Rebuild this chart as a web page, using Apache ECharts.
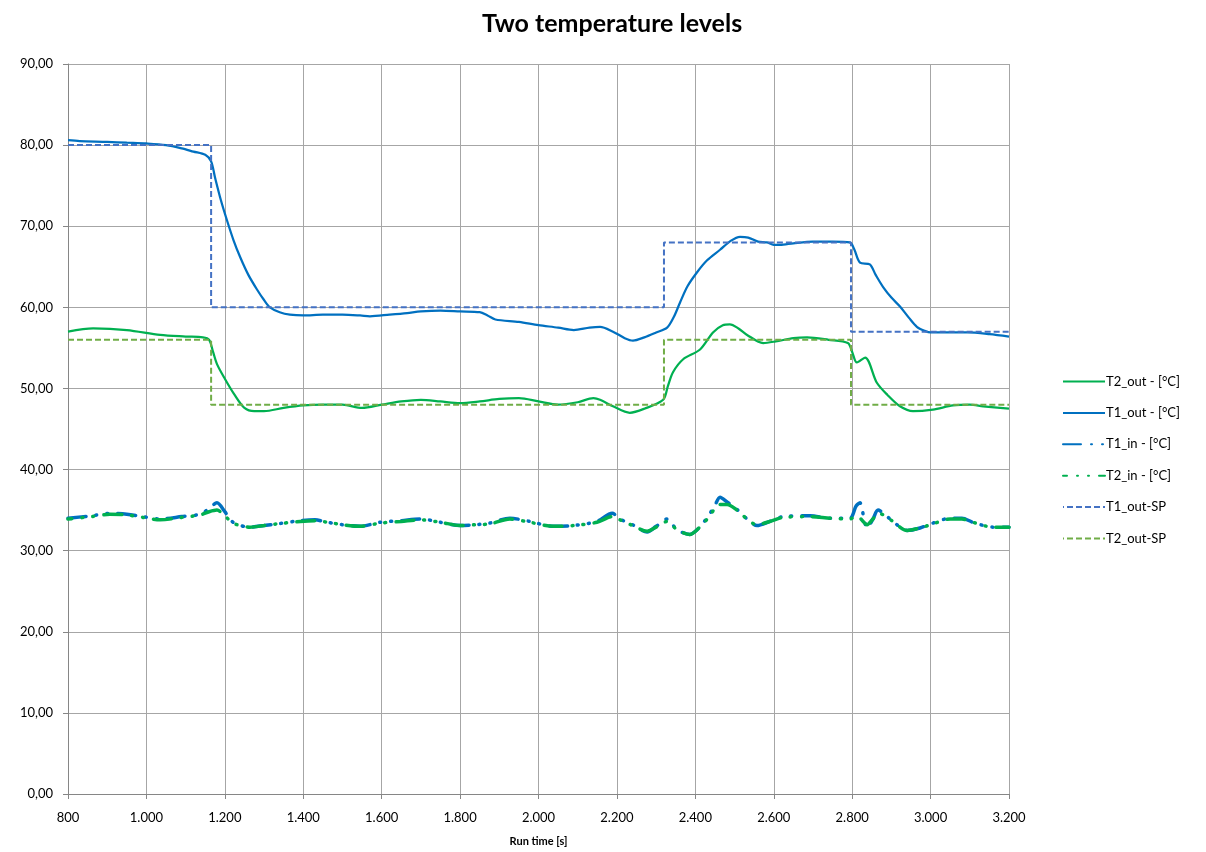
<!DOCTYPE html>
<html>
<head>
<meta charset="utf-8">
<script src="https://cdn.jsdelivr.net/npm/echarts@6/dist/echarts.min.js"></script>
<style>html,body{margin:0;padding:0;background:#fff}#c{width:1206px;height:852px}</style>
</head>
<body>
<div id="c"></div>
<script>
const titleText = 'Two temperature levels';
const xAxisName = 'Run time [s]';
const seriesNames = ['T2_out - [°C]', 'T1_out - [°C]', 'T1_in - [°C]', 'T2_in - [°C]', 'T1_out-SP', 'T2_out-SP'];

const t2Out = [[800,57.0],[864,57.4],[950,57.2],[1035,56.6],[1100,56.4],[1144,56.3],[1160,56.0],[1170,54.5],[1180,53.0],[1200,51.2],[1225,49.2],[1250,47.6],[1275,47.2],[1300,47.2],[1350,47.6],[1400,47.9],[1450,48.0],[1500,48.0],[1550,47.6],[1600,48.0],[1650,48.4],[1700,48.6],[1750,48.4],[1800,48.2],[1850,48.4],[1900,48.7],[1950,48.8],[2000,48.4],[2050,48.0],[2100,48.3],[2140,48.8],[2157,48.6],[2190,47.8],[2233,47.0],[2270,47.5],[2318,48.6],[2330,50.3],[2343,52.0],[2369,53.6],[2412,54.8],[2445,56.9],[2470,57.8],[2488,57.9],[2510,57.4],[2532,56.6],[2573,55.6],[2605,55.8],[2650,56.2],[2685,56.3],[2740,56.0],[2789,55.6],[2800,54.5],[2812,53.2],[2833,53.8],[2863,50.7],[2890,49.2],[2922,47.8],[2955,47.2],[3006,47.4],[3057,47.9],[3100,48.0],[3134,47.8],[3200,47.5]];

const t1Out = [[800,80.6],[830,80.5],[900,80.4],[950,80.3],[1000,80.2],[1050,80.0],[1090,79.6],[1120,79.2],[1150,78.8],[1165,78.0],[1175,76.0],[1190,73.2],[1205,70.8],[1222,68.3],[1239,66.2],[1260,64.0],[1282,62.2],[1300,60.9],[1315,60.0],[1340,59.4],[1366,59.1],[1400,59.0],[1450,59.1],[1500,59.1],[1545,59.0],[1570,58.9],[1620,59.1],[1665,59.3],[1700,59.5],[1750,59.6],[1800,59.5],[1850,59.4],[1870,59.0],[1890,58.5],[1950,58.2],[2000,57.8],[2050,57.5],[2090,57.2],[2130,57.5],[2157,57.6],[2190,57.0],[2220,56.2],[2241,55.9],[2270,56.3],[2300,56.9],[2328,57.5],[2345,58.8],[2361,60.6],[2380,62.6],[2404,64.3],[2430,65.8],[2463,67.1],[2490,68.2],[2514,68.7],[2535,68.6],[2560,68.1],[2583,68.0],[2600,67.7],[2616,67.7],[2650,67.9],[2700,68.1],[2750,68.1],[2794,68.0],[2805,67.2],[2820,65.5],[2845,65.3],[2860,64.0],[2879,62.5],[2900,61.2],[2922,60.1],[2945,58.7],[2965,57.6],[2985,57.1],[3000,56.9],[3050,56.9],[3093,56.9],[3150,56.7],[3200,56.4]];

const t1In = [[800,34.0],[860,34.3],[907,34.6],[950,34.5],[991,34.2],[1035,33.9],[1090,34.2],[1137,34.5],[1160,35.2],[1180,35.9],[1200,34.8],[1221,33.5],[1264,32.9],[1300,33.1],[1333,33.3],[1392,33.7],[1430,33.8],[1461,33.5],[1500,33.2],[1545,33.0],[1596,33.5],[1650,33.7],[1698,33.9],[1750,33.5],[1800,33.1],[1840,33.2],[1876,33.4],[1927,34.0],[1978,33.6],[2038,33.0],[2089,33.1],[2149,33.6],[2188,34.6],[2208,33.9],[2240,33.2],[2277,32.3],[2300,33.0],[2328,33.9],[2353,32.6],[2386,32.0],[2407,32.7],[2432,34.2],[2450,35.6],[2463,36.6],[2481,36.0],[2506,35.1],[2539,33.6],[2557,33.1],[2590,33.6],[2624,34.2],[2693,34.3],[2744,34.0],[2794,34.0],[2810,35.5],[2820,35.9],[2830,34.0],[2838,32.8],[2853,33.9],[2866,35.0],[2880,34.6],[2904,33.6],[2940,32.5],[2973,32.8],[3006,33.4],[3050,34.0],[3080,34.0],[3108,33.5],[3159,32.9],[3200,32.9]];

const t2In = [[800,33.9],[860,34.2],[907,34.5],[950,34.4],[991,34.1],[1035,33.8],[1090,34.1],[1137,34.4],[1160,34.8],[1180,35.0],[1200,34.3],[1221,33.4],[1264,32.9],[1300,33.1],[1333,33.3],[1392,33.6],[1430,33.7],[1461,33.5],[1500,33.2],[1545,33.0],[1596,33.4],[1650,33.6],[1698,33.8],[1750,33.5],[1800,33.1],[1840,33.2],[1876,33.3],[1927,33.9],[1978,33.5],[2038,33.0],[2089,33.1],[2149,33.5],[2188,34.2],[2208,33.8],[2240,33.1],[2277,32.4],[2300,32.9],[2328,33.6],[2353,32.6],[2386,32.0],[2407,32.7],[2432,34.0],[2450,35.2],[2463,35.7],[2481,35.7],[2506,35.0],[2539,33.6],[2557,33.2],[2590,33.6],[2624,34.1],[2693,34.2],[2744,34.0],[2794,33.9],[2810,34.2],[2820,34.0],[2838,33.2],[2853,33.9],[2866,34.6],[2880,34.4],[2904,33.6],[2940,32.5],[2973,32.8],[3006,33.3],[3050,33.9],[3080,33.9],[3108,33.5],[3159,32.9],[3200,32.9]];

const t1Sp = [[800,80],[1165,80],[1165,60],[2320,60],[2320,68],[2797,68],[2797,57],[3200,57]];
const t2Sp = [[800,56],[1165,56],[1165,48],[2320,48],[2320,56],[2797,56],[2797,48],[3200,48]];

const xMin = 800, xMax = 3200, xStep = 200;
const yMin = 0, yMax = 90, yStep = 10;

const FONT = 'Lato, "Open Sans", "Liberation Sans", sans-serif';
const GREEN = '#00b050', BLUE = '#0070c0', SPBLUE = '#4472c4', SPGREEN = '#70ad47';

function fmtX(v){ return String(Math.round(v)).replace(/\B(?=(\d{3})+(?!\d))/g, '.'); }
function fmtY(v){ return v.toFixed(2).replace('.', ','); }

const chart = echarts.init(document.getElementById('c'), null, {renderer:'canvas'});
const dashDot = [18, 10, 1, 10, 1, 10];
chart.setOption({
  backgroundColor: '#fff',
  animation: false,
  title: { text: titleText, left: 607, textAlign: 'center', top: 6,
    textStyle: { fontFamily: FONT, fontWeight: 'bold', fontSize: 25, color: '#000' } },
  grid: { left: 68, right: 197, top: 64, bottom: 57, containLabel: false },
  legend: {
    orient: 'vertical', left: 1057, top: 370,
    itemWidth: 42, itemHeight: 14, itemGap: 18.4,
    data: seriesNames,
    itemStyle: { opacity: 0 },
    textStyle: { fontFamily: FONT, fontSize: 13, color: '#000', padding: [0,0,0,-4] }
  },
  xAxis: {
    type: 'value', min: xMin, max: xMax, interval: xStep,
    name: xAxisName, nameLocation: 'middle', nameGap: 42,
    nameTextStyle: { fontFamily: FONT, fontSize: 11, fontWeight: 'bold', color: '#000' },
    axisLine: { show: true, lineStyle: { color: '#868686', width: 1 } },
    axisTick: { show: true, length: 5, lineStyle: { color: '#868686' } },
    axisLabel: { formatter: fmtX, fontFamily: FONT, fontSize: 13, color: '#000', margin: 17 },
    splitLine: { show: true, lineStyle: { color: '#a6a6a6', width: 1 } }
  },
  yAxis: {
    type: 'value', min: yMin, max: yMax, interval: yStep,
    axisLine: { show: true, lineStyle: { color: '#868686', width: 1 } },
    axisTick: { show: true, length: 5, lineStyle: { color: '#868686' } },
    axisLabel: { formatter: fmtY, fontFamily: FONT, fontSize: 13, color: '#000', margin: 15 },
    splitLine: { show: true, lineStyle: { color: '#a6a6a6', width: 1 } }
  },
  series: [
    { name: seriesNames[0], type: 'line', data: t2Out, symbol: 'none', smooth: 0.3,
      lineStyle: { color: GREEN, width: 2.25 }, itemStyle: { color: GREEN } },
    { name: seriesNames[1], type: 'line', data: t1Out, symbol: 'none', smooth: 0.3,
      lineStyle: { color: BLUE, width: 2.25 }, itemStyle: { color: BLUE } },
    { name: seriesNames[2], type: 'line', data: t1In, symbol: 'none', smooth: 0.3,
      lineStyle: { color: BLUE, width: 3.5, type: dashDot, cap: 'round' }, itemStyle: { color: BLUE } },
    { name: seriesNames[3], type: 'line', data: t2In, symbol: 'none', smooth: 0.3,
      lineStyle: { color: GREEN, width: 3.5, type: dashDot, dashOffset: 14, cap: 'round' }, itemStyle: { color: GREEN } },
    { name: seriesNames[4], type: 'line', data: t1Sp, symbol: 'none',
      lineStyle: { color: SPBLUE, width: 2, type: [6, 3] }, itemStyle: { color: SPBLUE } },
    { name: seriesNames[5], type: 'line', data: t2Sp, symbol: 'none',
      lineStyle: { color: SPGREEN, width: 2, type: [6, 3] }, itemStyle: { color: SPGREEN } }
  ]
});
</script>
</body>
</html>
